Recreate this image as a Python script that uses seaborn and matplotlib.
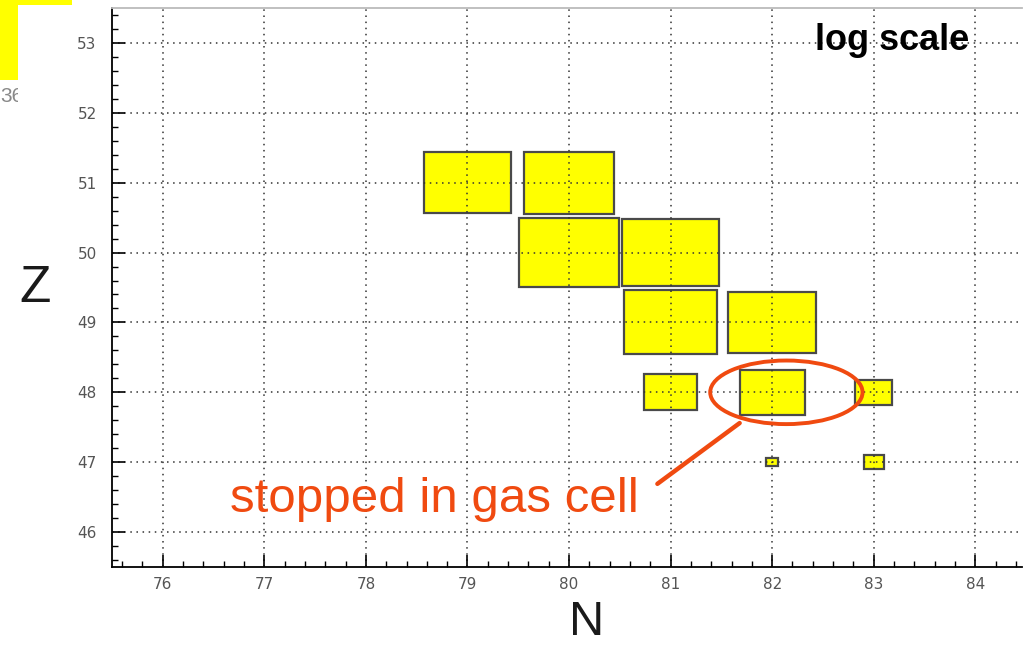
import numpy as np
import matplotlib
matplotlib.use("Agg")
import matplotlib.pyplot as plt
from matplotlib.patches import Ellipse, Rectangle
from matplotlib.ticker import MultipleLocator
import seaborn as sns

# ---- data ----
N = [79, 80, 80, 81, 81, 82, 81, 82, 83, 82, 83]
Z = [51, 51, 50, 50, 49, 49, 48, 48, 48, 47, 47]
counts = [2900, 3500, 8000, 6300, 4600, 2800, 115, 360, 29, 3, 6]
x_ticks = [76, 77, 78, 79, 80, 81, 82, 83, 84]
y_ticks = [46, 47, 48, 49, 50, 51, 52, 53]
annotation = "stopped in gas cell"
scale_label = "log scale"

sns.set_theme(style="white")
plt.rcParams['font.family'] = ['Liberation Sans', 'DejaVu Sans']

W, H = 1026, 647
fig = plt.figure(figsize=(W / 100, H / 100), dpi=100)
ax = fig.add_axes([112 / W, 1 - 567 / H, (1022 - 112) / W, (567 - 8) / H])

# log-scale box sizes
size = np.log10(np.array(counts, dtype=float)) / np.log10(10000.0)
Zc = np.array(Z, dtype=float)
ax.bar(N, size, width=size, bottom=Zc - size / 2, color="#ffff00",
       edgecolor="#4a4a4a", linewidth=1.6, align="center", zorder=1)

ax.set_xlim(75.5, 84.46)
ax.set_ylim(45.5, 53.5)
ax.set_xticks(x_ticks)
ax.set_yticks(y_ticks)
ax.xaxis.set_minor_locator(MultipleLocator(0.2))
ax.yaxis.set_minor_locator(MultipleLocator(0.2))
ax.tick_params(which="major", direction="in", length=9, width=1.2, color="black",
               labelsize=11, labelcolor="#555555", bottom=True, left=True,
               top=False, right=False)
for lab in ax.get_xticklabels() + ax.get_yticklabels():
    lab.set_fontfamily("DejaVu Sans")
ax.tick_params(axis="x", which="major", pad=7)
ax.tick_params(axis="y", which="major", pad=11)
ax.tick_params(which="minor", direction="in", length=4.5, width=1.0, color="black",
               bottom=True, left=True, top=False, right=False)

ax.set_axisbelow(False)
ax.grid(True, which="major", color="#333333", linestyle=(0, (1, 3)), linewidth=1.1)

for s in ["left", "bottom", "top"]:
    ax.spines[s].set_color("black")
    ax.spines[s].set_linewidth(1.3)
ax.spines["top"].set_color("#bbbbbb")
ax.spines["right"].set_visible(False)

# annotation ellipse, line, text
ax.add_patch(Ellipse((82.14, 48.0), 1.50, 0.91, fill=False, edgecolor="#f04a10",
                     linewidth=2.8, zorder=5))
ax.plot([81.68, 80.87], [47.56, 46.69], color="#f04a10", linewidth=3.2,
        solid_capstyle="round", zorder=5)
ax.text(76.66, 46.286, annotation, color="#f04a10", fontsize=35.5,
        ha="left", va="baseline", zorder=6)
ax.text(83.945, 52.9, scale_label, color="black", fontsize=26, fontweight="bold",
        ha="right", va="baseline", zorder=6)

# axis titles
fig.text(35 / W, 1 - 289 / H, "Z", fontsize=37, color="#1a1a1a",
         ha="center", va="center")
fig.text(587 / W, 1 - 645 / H, "N", fontsize=35, color="#1a1a1a",
         ha="center", va="bottom")

# top-left slide remnant
fig.patches.append(Rectangle((0, 1 - 80 / H), 18 / W, 80 / H, transform=fig.transFigure,
                             facecolor="#ffff00", edgecolor="none", zorder=0))
fig.patches.append(Rectangle((0, 1 - 5 / H), 72 / W, 5 / H, transform=fig.transFigure,
                             facecolor="#ffff00", edgecolor="none", zorder=0))
t36 = fig.text(0, 1 - 97 / H, "36", fontsize=15, color="#888888",
               ha="left", va="center")
t36.set_clip_path(Rectangle((0, 0), 18 / W, 1, transform=fig.transFigure))

fig.savefig("out.png", dpi=100)
